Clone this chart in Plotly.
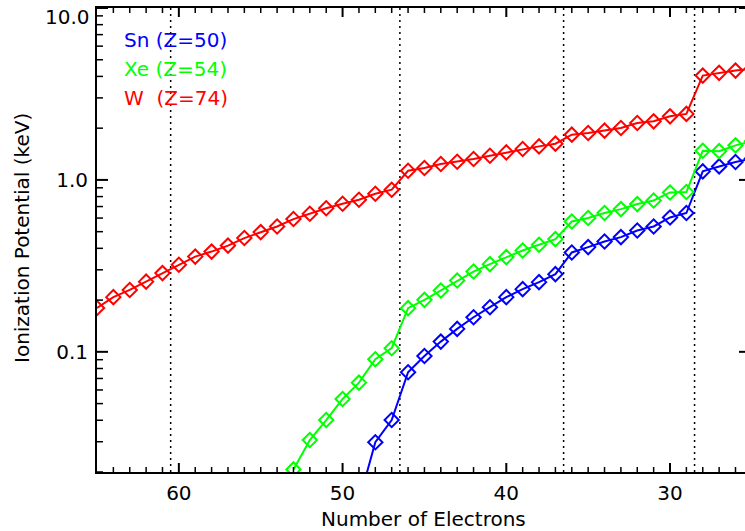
import math
import plotly.graph_objects as go

# ---------------- data ----------------
w_electrons = list(range(65, 24, -1))
w_ip = [0.180, 0.208, 0.229, 0.256, 0.287, 0.321, 0.358, 0.383, 0.415, 0.459,
        0.497, 0.536, 0.592, 0.636, 0.684, 0.727, 0.767, 0.831, 0.877, 1.131,
        1.173, 1.238, 1.276, 1.323, 1.383, 1.446, 1.514, 1.567, 1.625, 1.833,
        1.876, 1.935, 2.006, 2.145, 2.192, 2.344, 2.420, 4.045, 4.195, 4.325,
        4.43]

xe_electrons = list(range(53, 24, -1))
xe_ip = [0.0207, 0.0307, 0.0401, 0.0532, 0.0662, 0.0905, 0.105, 0.1795, 0.2006,
         0.2272, 0.2599, 0.2932, 0.3237, 0.3556, 0.3886, 0.4195, 0.4527, 0.5733,
         0.600, 0.6418, 0.6765, 0.7236, 0.7596, 0.8456, 0.850, 1.479, 1.47,
         1.589, 1.68]

sn_electrons = list(range(49, 24, -1))
sn_ip = [0.0135, 0.0298, 0.0401, 0.0761, 0.0946, 0.1147, 0.136, 0.159, 0.1818,
         0.208, 0.2315, 0.2543, 0.2831, 0.3784, 0.4066, 0.4384, 0.4649, 0.5081,
         0.536, 0.6048, 0.6418, 1.121, 1.198, 1.271, 1.33]

shell_edges = [60.5, 46.5, 36.5, 28.5]

series_names = ["Sn (Z=50)", "Xe (Z=54)", "W  (Z=74)"]
series_colors = ["#0000ff", "#00ff00", "#ff0000"]

x_range = [65, 25.42]
x_major = [60, 50, 40, 30]
x_minor = [v for v in range(26, 65) if v % 10]
y_range = [0.02, 10.0]
y_major = [0.1, 1.0, 10.0]
y_major_text = ["0.1", "1.0", ""]
y_minor = [m * d for d in (0.01, 0.1, 1.0) for m in range(2, 10)]

FONT = "DejaVu Sans"
fs = 20
tfs = 20

# plot-area geometry in pixels
L, T, W, H = 97, 8, 648, 464
y_log_range = [math.log10(v) for v in y_range]
px_per_decade = H / (y_log_range[1] - y_log_range[0])

fig = go.Figure()

for xs, ys, name, col in [(sn_electrons, sn_ip, series_names[0], series_colors[0]),
                          (xe_electrons, xe_ip, series_names[1], series_colors[1]),
                          (w_electrons, w_ip, series_names[2], series_colors[2])]:
    fig.add_trace(go.Scatter(
        x=xs, y=ys, mode="lines+markers", name=name,
        line=dict(color=col, width=2),
        marker=dict(symbol="diamond-open", size=11, color=col,
                    line=dict(color=col, width=2)),
        showlegend=False, hoverinfo="x+y"))

# dotted shell-boundary lines
for e in shell_edges:
    fig.add_shape(type="line", xref="x", yref="paper", x0=e, x1=e, y0=0, y1=1,
                  line=dict(color="black", width=1.5, dash="2px,4px"),
                  layer="below")

# inward-pointing x tick marks (IDL style) on bottom and top, as line segments
def xtick_segments(vals, length):
    d = length / px_per_decade
    xs, ys = [], []
    for v in vals:
        xs += [v, v, None, v, v, None]
        ys += [y_range[0], 10 ** (y_log_range[0] + d), None,
               y_range[1], 10 ** (y_log_range[1] - d), None]
    return xs, ys

for vals, length, width in ((x_major, 9, 2), (x_minor, 5, 1.5)):
    tx, ty = xtick_segments(vals, length)
    fig.add_trace(go.Scatter(x=tx, y=ty, mode="lines", connectgaps=False,
                             line=dict(color="black", width=width),
                             showlegend=False, hoverinfo="skip"))

# inward-pointing y tick marks
def ytick(v, x0, x1, width):
    fig.add_shape(type="line", xref="paper", yref="y", x0=x0, x1=x1, y0=v, y1=v,
                  line=dict(color="black", width=width), layer="above")

for v in y_major:
    ytick(v, 0, 11 / W, 2)
    ytick(v, 1, 1 - 6 / W, 2)
for v in y_minor:
    ytick(v, 0, 6 / W, 1.5)

# legend as coloured text
for i, (name, col) in enumerate(zip(series_names, series_colors)):
    fig.add_annotation(text=name, xref="paper", yref="paper",
                       x=(122 - L) / W, y=1 - (40 + 29 * i - T) / H,
                       xanchor="left", yanchor="middle", showarrow=False,
                       font=dict(family=FONT, size=fs, color=col))

# top tick label "10.0" (drawn slightly below the tick, as in the original)
fig.add_annotation(text="10.0", xref="paper", yref="paper", x=0, xshift=-5,
                   y=1 - (17 - T) / H, xanchor="right", yanchor="middle",
                   showarrow=False, font=dict(family=FONT, size=tfs, color="black"))

# axis titles
fig.add_annotation(text="Number of Electrons", xref="paper", yref="paper",
                   x=(423 - L) / W, y=-(519 - T - H) / H, xanchor="center",
                   yanchor="middle", showarrow=False,
                   font=dict(family=FONT, size=fs, color="black"))
fig.add_annotation(text="Ionization Potential (keV)", xref="paper", yref="paper",
                   x=(22 - L) / W, y=1 - (238 - T) / H, xanchor="center",
                   yanchor="middle", textangle=-90, showarrow=False,
                   font=dict(family=FONT, size=fs, color="black"))

fig.update_layout(
    width=745, height=531,
    margin=dict(l=L, r=745 - L - W, t=T, b=531 - T - H),
    paper_bgcolor="white", plot_bgcolor="white",
    font=dict(family=FONT, size=fs, color="black"),
    xaxis=dict(range=x_range, showline=True, linewidth=2, linecolor="black",
               mirror=True, ticks="", tickmode="array", tickvals=x_major,
               ticklabelstandoff=2, showgrid=False, zeroline=False,
               automargin=False, tickfont=dict(family=FONT, size=tfs)),
    yaxis=dict(type="log", range=y_log_range, showline=True, mirror=True,
               linewidth=2, linecolor="black", ticks="", tickmode="array",
               tickvals=y_major, ticktext=y_major_text, ticklabelstandoff=3,
               showgrid=False, zeroline=False, automargin=False,
               tickfont=dict(family=FONT, size=tfs)),
)

fig.write_html("out.html", config={"displayModeBar": False},
               post_script="document.body.style.margin='0px';"
                           "document.body.style.overflow='hidden';")
